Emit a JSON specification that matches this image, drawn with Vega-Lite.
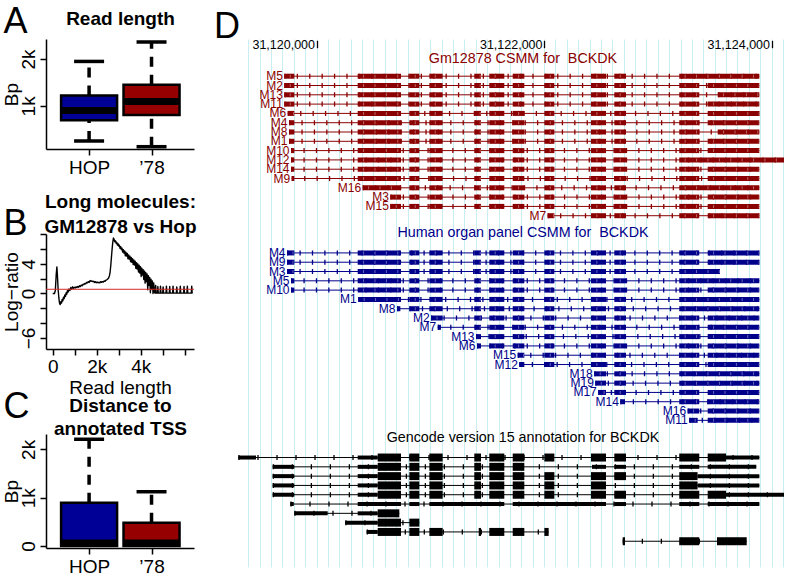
{
"$schema": "https://vega.github.io/schema/vega-lite/v6.json",
"background": "white",
"padding": {"left": 1, "top": 3, "right": 0, "bottom": 0},
"config": {
  "font": "Liberation Sans",
  "view": {"stroke": null},
  "axis": {"labelFont": "Liberation Sans", "titleFont": "Liberation Sans", "labelColor": "black", "titleColor": "black", "domainColor": "black", "tickColor": "black", "grid": false, "labelFontSize": 19, "titleFontSize": 19, "titleFontWeight": "normal", "tickSize": 6, "tickWidth": 1.5, "domainWidth": 1.5, "labelOverlap": false, "labelBound": false, "labelFlush": false}
},
"datasets": {
  "boxA": [
    {"grp": "HOP", "pos": 1, "lo": 250, "q1": 694, "med": 899, "q3": 1221, "hi": 1949},
    {"grp": "’78", "pos": 2, "lo": 128, "q1": 807, "med": 1092, "q3": 1450, "hi": 2364}
  ],
  "boxC": [
    {"grp": "HOP", "pos": 1, "lo": 0, "q1": 0, "med": 60, "q3": 896, "hi": 2210},
    {"grp": "’78", "pos": 2, "lo": 0, "q1": 0, "med": 60, "q3": 483, "hi": 1124}
  ],
  "lr": [
    {"len":0,"lr":0},{"len":80,"lr":0},{"len":120,"lr":0.4},{"len":160,"lr":2.6},{"len":190,"lr":3.6},{"len":215,"lr":2.4},{"len":245,"lr":0.6},{"len":280,"lr":-0.6},{"len":310,"lr":-1.3},{"len":340,"lr":-1.5},{"len":370,"lr":-1.1},{"len":400,"lr":-1.3},{"len":430,"lr":-0.8},{"len":460,"lr":-1.0},{"len":490,"lr":-0.5},{"len":520,"lr":-0.7},{"len":550,"lr":-0.2},{"len":580,"lr":-0.4},{"len":610,"lr":0.1},{"len":640,"lr":-0.1},{"len":670,"lr":0.4},{"len":700,"lr":0.2},{"len":740,"lr":0.6},{"len":780,"lr":0.4},{"len":820,"lr":0.8},{"len":860,"lr":0.6},{"len":900,"lr":0.9},{"len":940,"lr":0.7},{"len":980,"lr":0.85},{"len":1020,"lr":0.75},{"len":1060,"lr":0.9},{"len":1100,"lr":0.8},{"len":1140,"lr":0.95},{"len":1180,"lr":0.85},{"len":1220,"lr":1.05},{"len":1260,"lr":0.95},{"len":1300,"lr":1.15},{"len":1340,"lr":1.05},{"len":1380,"lr":1.25},{"len":1420,"lr":1.2},{"len":1460,"lr":1.35},{"len":1500,"lr":1.3},{"len":1540,"lr":1.5},{"len":1580,"lr":1.45},{"len":1620,"lr":1.6},{"len":1660,"lr":1.5},{"len":1700,"lr":1.75},{"len":1740,"lr":1.65},{"len":1780,"lr":1.7},{"len":1820,"lr":1.6},{"len":1860,"lr":1.65},{"len":1900,"lr":1.5},{"len":1940,"lr":1.6},{"len":1980,"lr":1.45},{"len":2020,"lr":1.55},{"len":2060,"lr":1.45},{"len":2100,"lr":1.5},{"len":2140,"lr":1.45},{"len":2180,"lr":1.6},{"len":2220,"lr":1.5},{"len":2260,"lr":1.6},{"len":2300,"lr":1.55},{"len":2340,"lr":1.7},{"len":2380,"lr":1.65},{"len":2420,"lr":1.8},{"len":2460,"lr":1.85},{"len":2500,"lr":1.95},{"len":2540,"lr":2.1},{"len":2580,"lr":2.4},{"len":2610,"lr":2.9},{"len":2640,"lr":3.8},{"len":2670,"lr":4.9},{"len":2700,"lr":6.0},{"len":2730,"lr":6.9},{"len":2760,"lr":7.5},
    {"len":2790,"lr":7.33},{"len":2820,"lr":7.0},{"len":2850,"lr":7.13},{"len":2880,"lr":6.8},{"len":2910,"lr":6.93},{"len":2940,"lr":6.55},{"len":2970,"lr":6.73},{"len":3000,"lr":6.4},{"len":3030,"lr":6.53},{"len":3060,"lr":6.1},{"len":3090,"lr":6.33},{"len":3120,"lr":5.95},{"len":3150,"lr":6.13},{"len":3180,"lr":5.6},{"len":3210,"lr":5.93},{"len":3240,"lr":5.45},{"len":3270,"lr":5.75},{"len":3300,"lr":5.1},{"len":3330,"lr":5.57},{"len":3360,"lr":5.05},{"len":3390,"lr":5.4},{"len":3420,"lr":4.7},{"len":3450,"lr":5.22},{"len":3480,"lr":4.65},{"len":3510,"lr":5.05},{"len":3540,"lr":4.3},{"len":3570,"lr":4.87},{"len":3600,"lr":4.2},{"len":3630,"lr":4.7},{"len":3660,"lr":3.9},{"len":3690,"lr":4.53},{"len":3720,"lr":3.85},{"len":3750,"lr":4.35},{"len":3780,"lr":3.4},{"len":3810,"lr":4.17},{"len":3840,"lr":3.3},{"len":3870,"lr":3.99},{"len":3900,"lr":2.9},{"len":3930,"lr":3.81},{"len":3960,"lr":2.75},{"len":3990,"lr":3.63},{"len":4020,"lr":2.3},{"len":4050,"lr":3.43},{"len":4080,"lr":2.5},{"len":4110,"lr":3.23},{"len":4140,"lr":1.9},{"len":4170,"lr":3.03},{"len":4200,"lr":1.4},{"len":4230,"lr":2.83},{"len":4260,"lr":1.6},{"len":4290,"lr":2.63},{"len":4320,"lr":0.5},{"len":4350,"lr":2.4},{"len":4380,"lr":1.1},{"len":4410,"lr":2.16},{"len":4440,"lr":0.1},{"len":4470,"lr":1.92},{"len":4500,"lr":0.6},{"len":4530,"lr":1.68},{"len":4560,"lr":0.0},{"len":4590,"lr":1.44},{"len":4620,"lr":0.2},
    {"len":4650,"lr":0.05},{"len":4680,"lr":1.1},{"len":4700,"lr":0.05},{"len":4760,"lr":0.05},{"len":4780,"lr":0.95},{"len":4800,"lr":0.05},{"len":4880,"lr":0.05},{"len":4900,"lr":1.0},{"len":4920,"lr":0.05},{"len":5000,"lr":0.05},{"len":5020,"lr":0.9},{"len":5040,"lr":0.05},{"len":5150,"lr":0.05},{"len":5170,"lr":1.0},{"len":5190,"lr":0.05},{"len":5300,"lr":0.05},{"len":5320,"lr":0.95},{"len":5340,"lr":0.05},{"len":5450,"lr":0.05},{"len":5470,"lr":1.0},{"len":5490,"lr":0.05},{"len":5620,"lr":0.05},{"len":5640,"lr":0.9},{"len":5660,"lr":0.05},{"len":5780,"lr":0.05},{"len":5800,"lr":1.0},{"len":5820,"lr":0.05},{"len":5950,"lr":0.05},{"len":5970,"lr":0.95},{"len":5990,"lr":0.05},{"len":6100,"lr":0.05},{"len":6120,"lr":1.0},{"len":6140,"lr":0.05},{"len":6300,"lr":0.05},{"len":6320,"lr":1.0},{"len":6340,"lr":0.05},{"len":6360,"lr":0.05}
  ],
  "ttl": [
    {"t": "Gm12878 CSMM for\u00a0 BCKDK", "r": -1.9, "c": "r"},
    {"t": "Human organ panel CSMM for\u00a0 BCKDK", "r": 16.9, "c": "b"},
    {"t": "Gencode version 15 annotation for BCKDK", "r": 38.9, "c": "g"}
  ],
  "tx": [
    {"c":"r","r":0,"n":"M5","s":[31119717,31120362,31120816,31120992,31121387,31121519,31121725,31122003,31122413,31122618,31123189],"e":[31119805,31120743,31120904,31121109,31121446,31121651,31121827,31122091,31122545,31122721,31123893]},
    {"c":"r","r":1,"n":"M2","s":[31119717,31120362,31120816,31120992,31121387,31121519,31121725,31122003,31122413,31122618,31123189,31123439],"e":[31119805,31120743,31120904,31121109,31121446,31121651,31121827,31122091,31122545,31122721,31123365,31123893]},
    {"c":"r","r":2,"n":"M13","s":[31119717,31120362,31120816,31120992,31121387,31121519,31121725,31122003,31122413,31122618,31123189,31123527],"e":[31119805,31120743,31120904,31121109,31121446,31121651,31121827,31122091,31122545,31122721,31123365,31123893]},
    {"c":"r","r":3,"n":"M11","s":[31119717,31120362,31120816,31120992,31121387,31121519,31121725,31122003,31122413,31122618,31123189,31123439],"e":[31119805,31120743,31120904,31121109,31121446,31121651,31121827,31122091,31122545,31122721,31123365,31123893]},
    {"c":"r","r":4,"n":"M6","s":[31119747,31120362,31120816,31120992,31121387,31121519,31121725,31122003,31122413,31122618,31123189,31123439],"e":[31119805,31120743,31120904,31121109,31121446,31121651,31121827,31122091,31122545,31122721,31123365,31123893]},
    {"c":"r","r":5,"n":"M4","s":[31119758,31120362,31120816,31120992,31121387,31121519,31121725,31122003,31122413,31122618,31123189,31123439],"e":[31119805,31120743,31120904,31121109,31121446,31121651,31121827,31122091,31122545,31122721,31123365,31123893]},
    {"c":"r","r":6,"n":"M8","s":[31119758,31120362,31120816,31120992,31121387,31121519,31121725,31122003,31122413,31122618,31123189,31123527],"e":[31119805,31120743,31120904,31121109,31121446,31121651,31121827,31122091,31122545,31122721,31123365,31123893]},
    {"c":"r","r":7,"n":"M1","s":[31119758,31120362,31120816,31120992,31121387,31121519,31121725,31122003,31122413,31122618,31123189,31123439],"e":[31119805,31120743,31120904,31121109,31121446,31121651,31121827,31122091,31122545,31122721,31123365,31123893]},
    {"c":"r","r":8,"n":"M10","s":[31119776,31120362,31120816,31120992,31121387,31121519,31121725,31122003,31122413,31122618,31123189,31123439],"e":[31119805,31120743,31120904,31121109,31121446,31121651,31121827,31122091,31122545,31122721,31123365,31123893]},
    {"c":"r","r":9,"n":"M12","s":[31119776,31120362,31120816,31120992,31121387,31121519,31121725,31122003,31122413,31122618,31123189],"e":[31119805,31120743,31120904,31121109,31121446,31121651,31121827,31122091,31122545,31122721,31124110]},
    {"c":"r","r":10,"n":"M14","s":[31119776,31120362,31120816,31120992,31121387,31121519,31121725,31122003,31122413,31122618,31123189,31123439],"e":[31119805,31120743,31120904,31121109,31121446,31121651,31121827,31122091,31122545,31122721,31123365,31123893]},
    {"c":"r","r":11,"n":"M9","s":[31119782,31120362,31120816,31120992,31121387,31121519,31121725,31122003,31122413,31122618,31123189,31123439],"e":[31119805,31120743,31120904,31121109,31121446,31121651,31121827,31122091,31122545,31122721,31123365,31123893]},
    {"c":"r","r":12,"n":"M16","s":[31120406,31120816,31120992,31121387,31121519,31121725,31122003,31122413,31122618,31123189],"e":[31120743,31120904,31121109,31121446,31121651,31121827,31122091,31122545,31122721,31123893]},
    {"c":"r","r":13,"n":"M3","s":[31120649,31120816,31120992,31121387,31121519,31121725,31122003,31122413,31122618,31123189,31123439],"e":[31120743,31120904,31121109,31121446,31121651,31121827,31122091,31122545,31122721,31123365,31123893]},
    {"c":"r","r":14,"n":"M15","s":[31120649,31120816,31120992,31121387,31121519,31121725,31122003,31122413,31122618,31123189,31123439],"e":[31120743,31120904,31121109,31121446,31121651,31121827,31122091,31122545,31122721,31123365,31123893]},
    {"c":"r","r":15,"n":"M7","s":[31122032,31122413,31122618,31123189,31123439],"e":[31122091,31122545,31122721,31123365,31123893]},
    {"c":"b","r":19,"n":"M4","s":[31119741,31120362,31120816,31120992,31121387,31121519,31121725,31122003,31122413,31122618,31123189,31123439],"e":[31119805,31120743,31120904,31121109,31121446,31121651,31121827,31122091,31122545,31122721,31123365,31123893]},
    {"c":"b","r":20,"n":"M9","s":[31119741,31120362,31120816,31120992,31121387,31121519,31121725,31122003,31122413,31122618,31123189,31123439],"e":[31119805,31120743,31120904,31121109,31121446,31121651,31121827,31122091,31122545,31122721,31123365,31123893]},
    {"c":"b","r":21,"n":"M3","s":[31119741,31120362,31120816,31120992,31121387,31121519,31121725,31122003,31122413,31122618,31123189],"e":[31119805,31120743,31120904,31121109,31121446,31121651,31121827,31122091,31122545,31122721,31123547]},
    {"c":"b","r":22,"n":"M5","s":[31119776,31120362,31120816,31120992,31121387,31121519,31121725,31122003,31122413,31122618,31123189],"e":[31119805,31120743,31120904,31121109,31121446,31121651,31121827,31122091,31122545,31122721,31123893]},
    {"c":"b","r":23,"n":"M10","s":[31119776,31120362,31120816,31120992,31121387,31121519,31121725,31122003,31122413,31122618,31123189,31123439],"e":[31119805,31120743,31120904,31121109,31121446,31121651,31121827,31122091,31122545,31122721,31123365,31123893]},
    {"c":"b","r":24,"n":"M1","s":[31120367,31120816,31120992,31121387,31121519,31121725,31122003,31122413,31122618,31123189],"e":[31120743,31120904,31121109,31121446,31121651,31121827,31122091,31122545,31122721,31123893]},
    {"c":"b","r":25,"n":"M8","s":[31120708,31120816,31120992,31121387,31121519,31121725,31122003,31122413,31122618,31123189],"e":[31120737,31120904,31121109,31121446,31121651,31121827,31122091,31122545,31122721,31123893]},
    {"c":"b","r":26,"n":"M2","s":[31121007,31121387,31121519,31121725,31122003,31122413,31122618,31123189,31123439],"e":[31121109,31121446,31121651,31121827,31122091,31122545,31122721,31123365,31123893]},
    {"c":"b","r":27,"n":"M7","s":[31121066,31121387,31121519,31121725,31122003,31122413,31122618,31123189,31123439],"e":[31121094,31121446,31121651,31121827,31122091,31122545,31122721,31123365,31123893]},
    {"c":"b","r":28,"n":"M13","s":[31121402,31121519,31121725,31122003,31122413,31122618,31123189,31123439],"e":[31121446,31121651,31121827,31122091,31122545,31122721,31123365,31123893]},
    {"c":"b","r":29,"n":"M6","s":[31121411,31121519,31121725,31122003,31122413,31122618,31123189,31123439],"e":[31121446,31121651,31121827,31122091,31122545,31122721,31123365,31123893]},
    {"c":"b","r":30,"n":"M15","s":[31121769,31122003,31122413,31122618,31123189,31123439],"e":[31121827,31122091,31122545,31122721,31123365,31123893]},
    {"c":"b","r":31,"n":"M12","s":[31121783,31122003,31122413,31122618,31123189,31123439],"e":[31121827,31122091,31122545,31122721,31123365,31123893]},
    {"c":"b","r":32,"n":"M18","s":[31122442,31122618,31123189],"e":[31122545,31122721,31123893]},
    {"c":"b","r":33,"n":"M19","s":[31122451,31122618,31123189],"e":[31122545,31122721,31123893]},
    {"c":"b","r":34,"n":"M17","s":[31122477,31122618,31123189,31123439],"e":[31122545,31122721,31123365,31123893]},
    {"c":"b","r":35,"n":"M14","s":[31122671,31123189,31123439],"e":[31122712,31123365,31123893]},
    {"c":"b","r":36,"n":"M16","s":[31123263,31123439],"e":[31123365,31123893]},
    {"c":"b","r":37,"n":"M11","s":[31123277,31123439],"e":[31123351,31123893]},
    {"c":"g","r":41,"n":"","s":[31119313,31120362,31120538,31120816,31120992,31121387,31121519,31121725,31122003,31122413,31122618,31123189,31123439,31123600],"e":[31119468,31120538,31120743,31120904,31121109,31121446,31121651,31121827,31122091,31122545,31122721,31123365,31123600,31123893],"k":["u","u","c","c","c","c","c","c","c","c","c","c","c","u"]},
    {"c":"g","r":42,"n":"","s":[31119615,31120362,31120538,31120816,31120992,31121387,31121519,31121725,31122422,31122618,31123189,31123439],"e":[31119805,31120538,31120743,31120904,31121109,31121446,31121651,31121827,31122545,31122721,31123365,31123866],"k":["u","u","c","c","c","c","c","c","u","u","u","u"]},
    {"c":"g","r":43,"n":"","s":[31119615,31120362,31120538,31120816,31120992,31121387,31121519,31121725,31122003,31122413,31122618,31123189,31123350],"e":[31119805,31120538,31120743,31120904,31121109,31121446,31121651,31121827,31122091,31122545,31122721,31123350,31123893],"k":["u","u","c","c","c","c","c","c","c","c","c","c","u"]},
    {"c":"g","r":44,"n":"","s":[31119615,31120362,31120538,31120816,31120992,31121387,31121519,31121725,31122003,31122413,31123189,31123350],"e":[31119805,31120538,31120743,31120904,31121109,31121446,31121651,31121827,31122091,31122545,31123350,31123893],"k":["u","u","c","c","c","c","c","c","c","c","c","u"]},
    {"c":"g","r":45,"n":"","s":[31119615,31120362,31120538,31120816,31120992,31121387,31121519,31121725,31122003,31122413,31122618,31123189,31123439,31123600],"e":[31119805,31120538,31120743,31120904,31121109,31121446,31121651,31121827,31122091,31122545,31122721,31123365,31123600,31124110],"k":["u","u","c","c","c","c","c","c","c","c","c","c","c","u"]},
    {"c":"g","r":46,"n":"","s":[31119770,31120362,31120816,31120992,31121725,31122618,31123189,31123439],"e":[31119800,31120743,31120904,31121651,31122545,31122721,31123365,31123893],"k":["u","u","u","u","u","u","u","u"]},
    {"c":"g","r":47,"n":"","s":[31119805,31120362,31120538],"e":[31120098,31120538,31120728],"k":["u","u","c"]},
    {"c":"g","r":48,"n":"","s":[31120253,31120538,31120816],"e":[31120538,31120743,31120904],"k":["u","c","c"]},
    {"c":"g","r":49,"n":"","s":[31120441,31120538,31120816,31120992,31121426,31121519,31121725,31122003],"e":[31120538,31120743,31120904,31121109,31121446,31121651,31121827,31122041],"k":["u","c","c","c","c","c","c","c"]},
    {"c":"g","r":50,"n":"","s":[31122692,31123189,31123521],"e":[31122712,31123365,31123782],"k":["c","c","c"]}
  ]
},
"bounds": "flush",
"spacing": 191,
"hconcat": [
  {"bounds": "flush", "spacing": 85, "vconcat": [
    {
      "width": 148, "height": 110,
      "data": {"name": "boxA"},
      "layer": [
        {"mark": {"type": "rule", "strokeWidth": 3.5, "strokeDash": [10, 8], "color": "black"},
         "encoding": {
           "x": {"field": "pos", "type": "quantitative", "scale": {"domain": [0.39, 2.6], "nice": false, "zero": false},
                 "axis": {"orient": "bottom", "values": [1, 2], "labelExpr": "datum.value == 1 ? 'HOP' : '’78'", "title": null, "labelPadding": 3}},
           "y": {"field": "q3", "type": "quantitative", "scale": {"domain": [79, 2428], "nice": false, "zero": false},
                 "axis": {"orient": "left", "values": [1000, 2000], "labelExpr": "datum.value / 1000 + 'k'", "labelAngle": -90, "labelAlign": "center", "labelBaseline": "bottom", "labelPadding": 2, "title": "Bp", "titleX": -25}},
           "y2": {"field": "hi"}}},
        {"mark": {"type": "rule", "strokeWidth": 3.5, "strokeDash": [10, 8], "color": "black"},
         "encoding": {"x": {"field": "pos", "type": "quantitative", "axis": null}, "y": {"field": "lo", "type": "quantitative", "axis": null}, "y2": {"field": "q1"}}},
        {"mark": {"type": "tick", "orient": "horizontal", "size": 30, "thickness": 3.5, "color": "black", "opacity": 1},
         "encoding": {"x": {"field": "pos", "type": "quantitative", "axis": null}, "y": {"field": "hi", "type": "quantitative", "axis": null}}},
        {"mark": {"type": "tick", "orient": "horizontal", "size": 30, "thickness": 3.5, "color": "black", "opacity": 1},
         "encoding": {"x": {"field": "pos", "type": "quantitative", "axis": null}, "y": {"field": "lo", "type": "quantitative", "axis": null}}},
        {"mark": {"type": "bar", "size": 56, "stroke": "black", "strokeWidth": 2.5, "opacity": 1},
         "encoding": {"x": {"field": "pos", "type": "quantitative", "axis": null}, "y": {"field": "q1", "type": "quantitative", "axis": null}, "y2": {"field": "q3"},
           "fill": {"condition": {"test": "datum.grp == 'HOP'", "value": "#000096"}, "value": "#960000"}}},
        {"mark": {"type": "tick", "orient": "horizontal", "size": 56, "thickness": 7, "color": "black", "opacity": 1},
         "encoding": {"x": {"field": "pos", "type": "quantitative", "axis": null}, "y": {"field": "med", "type": "quantitative", "axis": null}}},
        {"data": {"values": [{}]}, "mark": {"type": "point", "opacity": 0},
         "encoding": {
           "x": {"datum": 1, "type": "quantitative", "axis": {"orient": "top", "domain": false, "ticks": false, "labels": false, "title": "Read length", "titleX": 74, "titleY": -14.7, "titleAlign": "center", "titleBaseline": "alphabetic", "titleFontWeight": "bold", "titleAngle": 0}},
           "y": {"datum": 1000, "type": "quantitative", "axis": {"orient": "right", "domain": false, "ticks": false, "labels": false, "title": "A", "titleX": -191, "titleY": -6.5, "titleAlign": "left", "titleBaseline": "alphabetic", "titleAngle": 0, "titleFontSize": 36}}}}
      ]
    },
    {
      "width": 148, "height": 115,
      "layer": [
        {"data": {"name": "lr"}, "mark": {"type": "line", "color": "black", "strokeWidth": 1.4, "strokeJoin": "round"},
         "encoding": {
           "x": {"field": "len", "type": "quantitative", "scale": {"domain": [-305, 6423], "nice": false, "zero": false},
                 "axis": {"orient": "bottom", "values": [0, 1000, 2000, 3000, 4000, 5000, 6000], "labelExpr": "datum.value == 0 ? '0' : (datum.value == 2000 || datum.value == 4000) ? (datum.value / 1000) + 'k' : ''", "title": "Read length", "labelPadding": 2, "titlePadding": 2}},
           "y": {"field": "lr", "type": "quantitative", "scale": {"domain": [-7.5, 8.04], "nice": false, "zero": false},
                 "axis": {"orient": "left", "values": [-6, -4, -2, 0, 2, 4, 6, 8], "labelExpr": "datum.value == 4 ? '4' : datum.value == 0 ? '0' : datum.value == -6 ? '−6' : ''", "labelAngle": -90, "labelAlign": "center", "labelBaseline": "bottom", "labelPadding": 2, "title": "Log−ratio", "titleX": -25}}}},
        {"data": {"values": [{}]}, "mark": {"type": "rule", "color": "#d42a2a", "strokeWidth": 1},
         "encoding": {"y": {"datum": 0.57, "type": "quantitative", "axis": null}}},
        {"data": {"values": [{}]}, "mark": {"type": "point", "opacity": 0},
         "encoding": {
           "x": {"datum": 0, "type": "quantitative", "axis": {"orient": "top", "domain": false, "ticks": false, "labels": false, "title": ["Long molecules:", "GM12878 vs Hop"], "titleX": 74, "titleY": -26.3, "titleLineHeight": 25, "titleAlign": "center", "titleBaseline": "alphabetic", "titleFontWeight": "bold", "titleAngle": 0}},
           "y": {"datum": 0, "type": "quantitative", "axis": {"orient": "right", "domain": false, "ticks": false, "labels": false, "title": "B", "titleX": -191, "titleY": 0.3, "titleAlign": "left", "titleBaseline": "alphabetic", "titleAngle": 0, "titleFontSize": 36}}}}
      ]
    },
    {
      "width": 148, "height": 114,
      "data": {"name": "boxC"},
      "layer": [
        {"mark": {"type": "rule", "strokeWidth": 3.5, "strokeDash": [10, 8], "color": "black"},
         "encoding": {
           "x": {"field": "pos", "type": "quantitative", "scale": {"domain": [0.39, 2.6], "nice": false, "zero": false},
                 "axis": {"orient": "bottom", "values": [1, 2], "labelExpr": "datum.value == 1 ? 'HOP' : '’78'", "title": null, "labelPadding": 3}},
           "y": {"field": "q3", "type": "quantitative", "scale": {"domain": [-41, 2319], "nice": false, "zero": false},
                 "axis": {"orient": "left", "values": [0, 1000, 2000], "labelExpr": "datum.value == 0 ? '0' : datum.value / 1000 + 'k'", "labelAngle": -90, "labelAlign": "center", "labelBaseline": "bottom", "labelPadding": 2, "title": "Bp", "titleX": -25}},
           "y2": {"field": "hi"}}},
        {"mark": {"type": "tick", "orient": "horizontal", "size": 30, "thickness": 3.5, "color": "black", "opacity": 1},
         "encoding": {"x": {"field": "pos", "type": "quantitative", "axis": null}, "y": {"field": "hi", "type": "quantitative", "axis": null}}},
        {"mark": {"type": "bar", "size": 56, "stroke": "black", "strokeWidth": 2.5, "opacity": 1},
         "encoding": {"x": {"field": "pos", "type": "quantitative", "axis": null}, "y": {"field": "q1", "type": "quantitative", "axis": null}, "y2": {"field": "q3"},
           "fill": {"condition": {"test": "datum.grp == 'HOP'", "value": "#000096"}, "value": "#960000"}}},
        {"mark": {"type": "tick", "orient": "horizontal", "size": 56, "thickness": 7, "color": "black", "opacity": 1},
         "encoding": {"x": {"field": "pos", "type": "quantitative", "axis": null}, "y": {"field": "med", "type": "quantitative", "axis": null}}},
        {"data": {"values": [{}]}, "mark": {"type": "point", "opacity": 0},
         "encoding": {
           "x": {"datum": 1, "type": "quantitative", "axis": {"orient": "top", "domain": false, "ticks": false, "labels": false, "title": ["Distance to", "annotated TSS"], "titleX": 74, "titleY": -23, "titleLineHeight": 23.5, "titleAlign": "center", "titleBaseline": "alphabetic", "titleFontWeight": "bold", "titleAngle": 0}},
           "y": {"datum": 1000, "type": "quantitative", "axis": {"orient": "right", "domain": false, "ticks": false, "labels": false, "title": "C", "titleX": -191, "titleY": -16.5, "titleAlign": "left", "titleBaseline": "alphabetic", "titleAngle": 0, "titleFontSize": 36}}}}
      ]
    }
  ]},
  {
    "width": 556, "height": 528,
    "layer": [
      {"data": {"values": [{}]}, "mark": {"type": "point", "opacity": 0},
       "encoding": {
         "x": {"datum": 31120000, "type": "quantitative", "scale": {"domain": [31119301, 31124189], "nice": false, "zero": false},
               "axis": {"orient": "bottom", "grid": true, "gridColor": "#c8eef2", "gridWidth": 1, "tickCount": 50, "labels": false, "ticks": false, "domain": false, "title": "D", "titleX": -23.5, "titleY": -529.8, "titleAlign": "left", "titleBaseline": "alphabetic", "titleAngle": 0, "titleFontSize": 36}},
         "y": {"datum": 0, "type": "quantitative", "scale": {"domain": [-4, 52.77], "reverse": true, "nice": false, "zero": false}, "axis": null}}},
      {"data": {"name": "tx"},
       "transform": [{"flatten": ["s", "e"]}, {"aggregate": [{"op": "min", "field": "s", "as": "st"}, {"op": "max", "field": "e", "as": "en"}], "groupby": ["c", "r", "n"]}],
       "mark": {"type": "rule", "strokeWidth": 1},
       "encoding": {
         "x": {"field": "st", "type": "quantitative",
               "axis": {"orient": "top", "values": [31120000, 31122000, 31124000], "format": ",d", "offset": -8.7, "domain": false, "ticks": true, "tickSize": 7.4, "tickWidth": 1.3, "labelAlign": "right", "labelBaseline": "alphabetic", "labelPadding": -8, "labelOffset": -2, "labelFontSize": 12.5, "grid": false, "title": null}},
         "x2": {"field": "en"},
         "y": {"field": "r", "type": "quantitative", "axis": null},
         "color": {"field": "c", "type": "nominal", "scale": {"domain": ["r", "b", "g"], "range": ["#8b0000", "#00008b", "#000000"]}, "legend": null}}},
      {"data": {"name": "tx"},
       "transform": [{"filter": "datum.c != 'g'"}, {"flatten": ["s", "e"]}, {"aggregate": [{"op": "min", "field": "s", "as": "st"}, {"op": "max", "field": "e", "as": "en"}], "groupby": ["c", "r", "n"]}],
       "mark": {"type": "rule", "strokeWidth": 5, "strokeDash": [1.3, 11.1]},
       "encoding": {"x": {"field": "st", "type": "quantitative", "axis": null}, "x2": {"field": "en"}, "y": {"field": "r", "type": "quantitative", "axis": null}, "color": {"field": "c", "type": "nominal", "legend": null}}},
      {"data": {"name": "tx"},
       "transform": [{"filter": "datum.c == 'g'"}, {"flatten": ["s", "e"]}, {"aggregate": [{"op": "min", "field": "s", "as": "st"}, {"op": "max", "field": "e", "as": "en"}], "groupby": ["c", "r", "n"]}],
       "mark": {"type": "rule", "strokeWidth": 5, "strokeDash": [1.3, 17.7]},
       "encoding": {"x": {"field": "st", "type": "quantitative", "axis": null}, "x2": {"field": "en"}, "y": {"field": "r", "type": "quantitative", "axis": null}, "color": {"field": "c", "type": "nominal", "legend": null}}},
      {"data": {"name": "tx"},
       "transform": [{"filter": "datum.c != 'g'"}, {"flatten": ["s", "e"]}],
       "mark": {"type": "rule", "strokeWidth": 5},
       "encoding": {"x": {"field": "s", "type": "quantitative", "axis": null}, "x2": {"field": "e"}, "y": {"field": "r", "type": "quantitative", "axis": null}, "color": {"field": "c", "type": "nominal", "legend": null}}},
      {"data": {"name": "tx"},
       "transform": [{"filter": "datum.c != 'g'"}, {"flatten": ["s", "e"]}],
       "mark": {"type": "rule", "strokeWidth": 3, "strokeDash": [1, 10.4], "strokeDashOffset": 6, "color": "white", "opacity": 0.4},
       "encoding": {"x": {"field": "s", "type": "quantitative", "axis": null}, "x2": {"field": "e"}, "y": {"field": "r", "type": "quantitative", "axis": null}}},
      {"data": {"name": "tx"},
       "transform": [{"filter": "datum.c == 'g'"}, {"flatten": ["s", "e", "k"]}, {"filter": "datum.k == 'u'"}],
       "mark": {"type": "rule", "strokeWidth": 4},
       "encoding": {"x": {"field": "s", "type": "quantitative", "axis": null}, "x2": {"field": "e"}, "y": {"field": "r", "type": "quantitative", "axis": null}, "color": {"field": "c", "type": "nominal", "legend": null}}},
      {"data": {"name": "tx"},
       "transform": [{"filter": "datum.c == 'g'"}, {"flatten": ["s", "e", "k"]}, {"filter": "datum.k == 'c'"}],
       "mark": {"type": "rule", "strokeWidth": 8},
       "encoding": {"x": {"field": "s", "type": "quantitative", "axis": null}, "x2": {"field": "e"}, "y": {"field": "r", "type": "quantitative", "axis": null}, "color": {"field": "c", "type": "nominal", "legend": null}}},
      {"data": {"name": "tx"},
       "transform": [{"filter": "datum.n != ''"}, {"flatten": ["s", "e"]}, {"aggregate": [{"op": "min", "field": "s", "as": "st"}], "groupby": ["c", "r", "n"]}],
       "mark": {"type": "text", "align": "right", "baseline": "middle", "dx": -1.5, "fontSize": 12},
       "encoding": {"x": {"field": "st", "type": "quantitative", "axis": null}, "y": {"field": "r", "type": "quantitative", "axis": null}, "text": {"field": "n"}, "color": {"field": "c", "type": "nominal", "legend": null}}},
      {"data": {"name": "ttl"},
       "mark": {"type": "text", "align": "center", "baseline": "middle", "fontSize": 14.3},
       "encoding": {"x": {"datum": 31121815, "type": "quantitative", "axis": null}, "y": {"field": "r", "type": "quantitative", "axis": null}, "text": {"field": "t"}, "color": {"field": "c", "type": "nominal", "legend": null}}}
    ]
  }
]
}
